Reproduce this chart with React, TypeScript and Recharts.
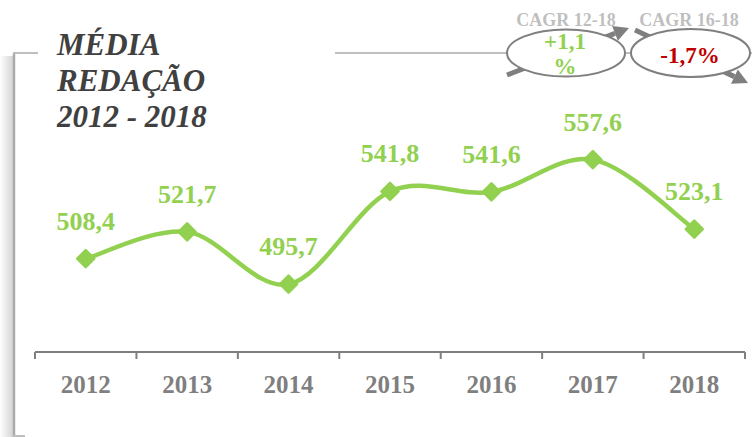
import React from "react";
import { LineChart, Line, XAxis, YAxis, LabelList } from "recharts";

const years = ["2012", "2013", "2014", "2015", "2016", "2017", "2018"];
const media = [508.4, 521.7, 495.7, 541.8, 541.6, 557.6, 523.1];
const titleLines = ["MÉDIA", "REDAÇÃO", "2012 - 2018"];
const cagrLabels = ["CAGR 12-18", "CAGR 16-18"];
const cagrValues = ["+1,1", "-1,7%"];

const data = years.map((y, i) => ({ year: y, value: media[i] }));

const GREEN = "#92D050";
const GRAY = "#7F7F7F";
const FONT = "'Liberation Serif', 'Times New Roman', serif";

// Catmull-Rom style smoothing (like Excel smoothed lines)
const smoothCurve = (context: any) => {
  let pts: number[][] = [];
  return {
    areaStart() {},
    areaEnd() {},
    lineStart() {
      pts = [];
    },
    point(x: number, y: number) {
      pts.push([+x, +y]);
    },
    lineEnd() {
      const n = pts.length;
      if (!n) return;
      context.moveTo(pts[0][0], pts[0][1]);
      for (let i = 0; i < n - 1; i++) {
        const p0 = pts[Math.max(i - 1, 0)];
        const p1 = pts[i];
        const p2 = pts[i + 1];
        const p3 = pts[Math.min(i + 2, n - 1)];
        context.bezierCurveTo(
          p1[0] + (p2[0] - p0[0]) / 6,
          p1[1] + (p2[1] - p0[1]) / 6,
          p2[0] - (p3[0] - p1[0]) / 6,
          p2[1] - (p3[1] - p1[1]) / 6,
          p2[0],
          p2[1]
        );
      }
    },
  };
};

const Diamond = (props: any) => {
  const { cx, cy } = props;
  if (cx == null || cy == null) return null;
  const r = 8.5;
  return (
    <polygon
      points={`${cx},${cy - r} ${cx + r},${cy} ${cx},${cy + r} ${cx - r},${cy}`}
      fill={GREEN}
      stroke={GREEN}
      strokeWidth={2.5}
      strokeLinejoin="round"
    />
  );
};

const ValueLabel = (props: any) => {
  const { x, y, value } = props;
  return (
    <text
      x={x}
      y={y - 29}
      textAnchor="middle"
      fontFamily={FONT}
      fontWeight="bold"
      fontSize={26}
      fill={GREEN}
    >
      {Number(value).toFixed(1).replace(".", ",")}
    </text>
  );
};

// plot-area bounds used to place category-boundary ticks
const PLOT_LEFT = 35;
const PLOT_RIGHT = 745;

const YearTick = (props: any) => {
  const { x, y, payload, index, visibleTicksCount } = props;
  const count = visibleTicksCount || years.length;
  const half = payload && payload.offset ? payload.offset : (PLOT_RIGHT - PLOT_LEFT) / count / 2;
  const last = index === count - 1;
  return (
    <g>
      <line x1={x - half} x2={x - half} y1={y} y2={y + 7} stroke={GRAY} strokeWidth={2} />
      {last && <line x1={x + half} x2={x + half} y1={y} y2={y + 7} stroke={GRAY} strokeWidth={2} />}
      <text
        x={x}
        y={y + 41}
        textAnchor="middle"
        fontFamily={FONT}
        fontWeight="bold"
        fontSize={25}
        fill={GRAY}
      >
        {payload.value}
      </text>
    </g>
  );
};

const Arrow = ({ x1, y1, x2, y2 }: any) => {
  const dx = x2 - x1;
  const dy = y2 - y1;
  const L = Math.hypot(dx, dy);
  const ux = dx / L;
  const uy = dy / L;
  const hl = 15;
  const hw = 8;
  const bx = x2 - ux * hl;
  const by = y2 - uy * hl;
  return (
    <g>
      <line x1={x1} y1={y1} x2={bx} y2={by} stroke={GRAY} strokeWidth={5} />
      <polygon
        points={`${x2},${y2} ${bx - uy * hw},${by + ux * hw} ${bx + uy * hw},${by - ux * hw}`}
        fill={GRAY}
      />
    </g>
  );
};

export default function App() {
  return (
    <div style={{ position: "absolute", left: 0, top: 0, width: 752, height: 437, background: "#fff" }}>
      <svg width={752} height={437} style={{ position: "absolute", left: 0, top: 0 }}>
        <defs>
          <linearGradient id="shadow" x1="0" x2="1" y1="0" y2="0">
            <stop offset="0" stopColor="#ffffff" />
            <stop offset="1" stopColor="#d4d4d4" />
          </linearGradient>
        </defs>
        <rect x={0} y={56} width={13} height={381} fill="url(#shadow)" />
        <line x1={14} y1={53} x2={14} y2={437} stroke="#ABABAB" strokeWidth={2.5} />
        <line x1={13} y1={53} x2={38} y2={53} stroke="#BFBFBF" strokeWidth={2} />
        <line x1={335} y1={53} x2={752} y2={53} stroke="#BFBFBF" strokeWidth={2} />
        <line x1={13} y1={436} x2={25} y2={436} stroke="#BFBFBF" strokeWidth={2} />
        {titleLines.map((t, i) => (
          <text
            key={t}
            x={57}
            y={55 + i * 36}
            fontFamily={FONT}
            fontWeight="bold"
            fontStyle="italic"
            fontSize={31}
            fill="#404040"
          >
            {t}
          </text>
        ))}
        <Arrow x1={507} y1={75} x2={629} y2={28} />
        <Arrow x1={635} y1={30} x2={748} y2={83} />
        <ellipse cx={566} cy={53} rx={59} ry={23.5} fill="#fff" stroke={GRAY} strokeWidth={2} />
        <ellipse cx={690.5} cy={53} rx={59.5} ry={24} fill="#fff" stroke={GRAY} strokeWidth={2} />
        <text x={566} y={26} textAnchor="middle" fontFamily={FONT} fontWeight="bold" fontSize={18} fill="#BFBFBF">
          {cagrLabels[0]}
        </text>
        <text x={689} y={26} textAnchor="middle" fontFamily={FONT} fontWeight="bold" fontSize={18} fill="#BFBFBF">
          {cagrLabels[1]}
        </text>
        <text x={565} y={49} textAnchor="middle" fontFamily={FONT} fontWeight="bold" fontSize={23} fill={GREEN}>
          {cagrValues[0]}
        </text>
        <text x={565} y={74} textAnchor="middle" fontFamily={FONT} fontWeight="bold" fontSize={23} fill={GREEN}>
          %
        </text>
        <text x={690} y={63} textAnchor="middle" fontFamily={FONT} fontWeight="bold" fontSize={23} fill="#C00000">
          {cagrValues[1]}
        </text>
      </svg>
      <div style={{ position: "absolute", left: 0, top: 0 }}>
        <LineChart width={752} height={437} data={data} margin={{ top: 20, right: 7, bottom: 45, left: 35 }}>
          <XAxis
            dataKey="year"
            scale="band"
            height={40}
            axisLine={{ stroke: GRAY, strokeWidth: 2 }}
            tickLine={false}
            tickSize={0}
            tickMargin={0}
            interval={0}
            tick={<YearTick />}
          />
          <YAxis hide domain={[462, 627]} />
          <Line
            dataKey="value"
            type={smoothCurve as any}
            stroke={GREEN}
            strokeWidth={4.5}
            dot={<Diamond />}
            activeDot={false}
            isAnimationActive={false}
          >
            <LabelList dataKey="value" content={<ValueLabel />} />
          </Line>
        </LineChart>
      </div>
    </div>
  );
}
